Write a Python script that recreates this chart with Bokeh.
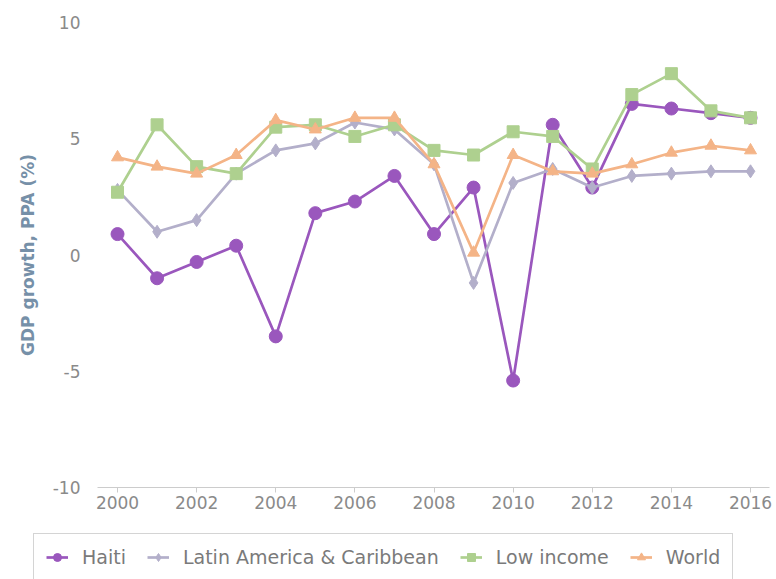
from bokeh.plotting import figure
from bokeh.layouts import column, row
from bokeh.models import Range1d, Legend, FixedTicker, ColumnDataSource
from bokeh.embed import file_html
from bokeh.resources import INLINE

years = list(range(2000, 2017))
haiti = [0.9, -1.0, -0.3, 0.4, -3.5, 1.8, 2.3, 3.4, 0.9, 2.9, -5.4, 5.6, 2.9, 6.5, 6.3, 6.1, 5.9]
latam = [2.8, 1.0, 1.5, 3.5, 4.5, 4.8, 5.7, 5.4, 3.9, -1.2, 3.1, 3.7, 2.9, 3.4, 3.5, 3.6, 3.6]
low_income = [2.7, 5.6, 3.8, 3.5, 5.5, 5.6, 5.1, 5.6, 4.5, 4.3, 5.3, 5.1, 3.7, 6.9, 7.8, 6.2, 5.9]
world = [4.2, 3.8, 3.5, 4.3, 5.8, 5.4, 5.9, 5.9, 3.9, 0.1, 4.3, 3.6, 3.5, 3.9, 4.4, 4.7, 4.5]

names = ["Haiti", "Latin America & Caribbean", "Low income", "World"]
series = [haiti, latam, low_income, world]
colors = ["#9a57bd", "#b3afca", "#aed08f", "#f4b487"]
markers = ["circle", "diamond", "square", "triangle"]
msizes = [13, 13, 12, 12]

x_ticks = list(range(2000, 2017, 2))
y_ticks = [-10, -5, 0, 5, 10]
y_tick_labels = {-10: "-10", -5: "-5", 0: "0", 5: "5", 10: "10"}

p = figure(width=776, height=530, output_backend="svg", toolbar_location=None,
           x_range=Range1d(1999.494, 2016.48), y_range=Range1d(-10, 10),
           min_border_left=97, min_border_right=7, min_border_top=22, min_border_bottom=43)
p.outline_line_color = None
p.xgrid.grid_line_color = None
p.ygrid.grid_line_color = None
p.background_fill_color = "white"

sources = []
for name, vals, c, m, s in zip(names, series, colors, markers, msizes):
    src = ColumnDataSource(dict(x=years, y=vals))
    sources.append(src)
    p.line("x", "y", source=src, line_color=c, line_width=2.7)
    p.scatter("x", "y", source=src, marker=m, size=s, fill_color=c, line_color=c)

p.xaxis.ticker = FixedTicker(ticks=x_ticks)
p.yaxis.ticker = FixedTicker(ticks=y_ticks)
p.yaxis.major_label_overrides = y_tick_labels
p.xaxis.axis_line_color = "#cccccc"
p.xaxis.major_tick_line_color = "#cccccc"
p.xaxis.major_tick_out = 5
p.xaxis.major_tick_in = 0
p.xaxis.minor_tick_line_color = None
p.xaxis.major_label_standoff = 3
p.xaxis.major_label_text_font = "DejaVu Sans"
p.xaxis.major_label_text_font_size = "17px"
p.xaxis.major_label_text_color = "#8a8a8a"

p.yaxis.axis_line_color = None
p.yaxis.major_tick_line_color = None
p.yaxis.minor_tick_line_color = None
p.yaxis.major_label_standoff = 11
p.yaxis.major_label_text_font = "DejaVu Sans"
p.yaxis.major_label_text_font_size = "17px"
p.yaxis.major_label_text_color = "#8a8a8a"
p.yaxis.axis_label = "GDP growth, PPA (%)"
p.yaxis.axis_label_text_font = "DejaVu Sans"
p.yaxis.axis_label_text_font_style = "bold"
p.yaxis.axis_label_text_font_size = "17px"
p.yaxis.axis_label_text_color = "#7690a8"
p.yaxis.axis_label_standoff = 12

# legend strip below the chart (series drawn out of view, only the legend shows)
lg = figure(width=776, height=49, output_backend="svg", toolbar_location=None,
            x_range=Range1d(0, 1), y_range=Range1d(0, 1),
            x_axis_type=None, y_axis_type=None,
            min_border_left=0, min_border_right=0, min_border_top=0, min_border_bottom=0)
lg.outline_line_color = None
lg.xgrid.grid_line_color = None
lg.ygrid.grid_line_color = None
items = []
for name, src, c, m, s in zip(names, sources, colors, markers, msizes):
    r1 = lg.line("x", "y", source=src, line_color=c, line_width=2.7)
    r2 = lg.scatter("x", "y", source=src, marker=m, size=s, fill_color=c, line_color=c)
    items.append((name, [r1, r2]))

legend = Legend(items=items, orientation="horizontal", location=(33, -2))
legend.label_text_font = "DejaVu Sans"
legend.label_text_font_size = "19px"
legend.label_text_color = "#7a7a7a"
legend.border_line_color = "#aaaaaa"
legend.border_line_width = 1.5
legend.glyph_width = 22
legend.glyph_height = 20
legend.spacing = 21
legend.padding = 12
legend.label_standoff = 14
legend.margin = 0
lg.add_layout(legend, "center")

layout = column(p, row(lg), spacing=0)
open("out.html", "w").write(file_html(layout, INLINE))
